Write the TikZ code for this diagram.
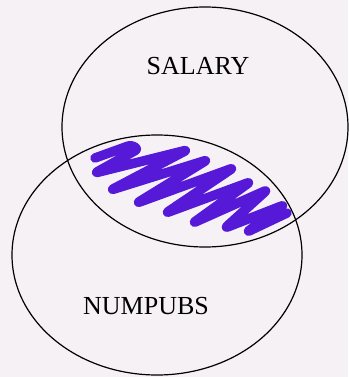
\documentclass[tikz,border=0pt]{standalone}
\usepackage{fontspec}
\setmainfont{Liberation Serif}
\usetikzlibrary{shapes.geometric}
\definecolor{bg}{RGB}{246,241,245}
\definecolor{pen}{RGB}{85,25,215}
\begin{document}
\begin{tikzpicture}[x=1pt,y=-1pt,
  setring/.style={draw=black, line width=1.2pt, ellipse, inner sep=0pt},
  setlabel/.style={font=\fontsize{26}{26}\selectfont, inner sep=0pt},
  scribble/.style={draw=pen, line width=9.5pt, line cap=round, line join=round, rounded corners=3pt}]
\fill[bg] (0,0) rectangle (348,377);
\useasboundingbox (0,0) rectangle (348,377);
\node[setring, minimum width=286pt, minimum height=240pt] (salary) at (205,127) {};
\node[setring, minimum width=290pt, minimum height=240pt] (numpubs) at (157,255) {};
\node[setlabel] (lsal) at (198,66) {SALARY};
\node[setlabel] (lnum) at (146,306) {NUMPUBS};
\draw[scribble] (95,158) -- (131,145) -- (138,149) -- (95,173) -- (187,150)
  -- (111,190) -- (207,160) -- (137,203) -- (233,168) -- (166,213)
  -- (250,182) -- (193,223) -- (267,190) -- (225,228) -- (284,205)
  -- (247,232) -- (287,213);
\end{tikzpicture}
\end{document}
